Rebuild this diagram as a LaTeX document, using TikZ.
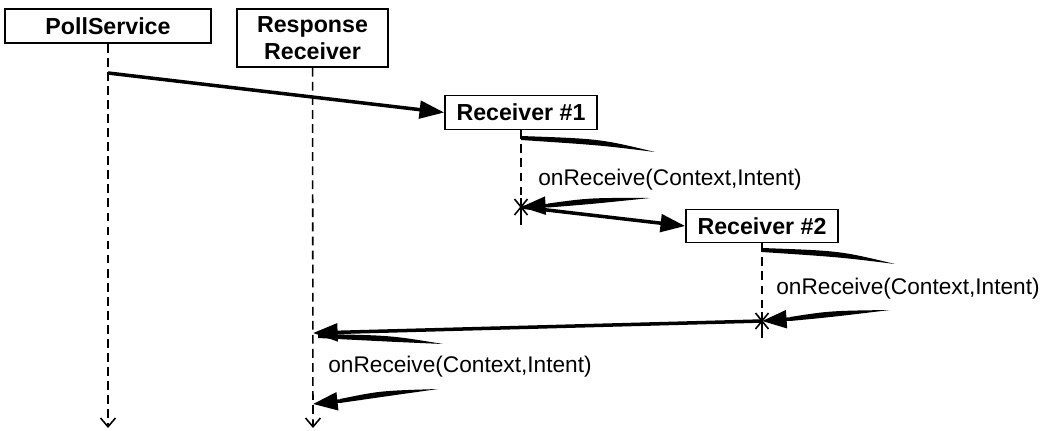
\documentclass[tikz,border=0pt]{standalone}
\usepackage{fontspec}
\setsansfont{Liberation Sans}
\usetikzlibrary{arrows.meta, positioning, calc}

% tapered pen stroke: thick end, bow point, thin tip
\newcommand{\taper}[3]{%
  \fill ($(#1)+(0,-2)$) .. controls ($(#2)+(0,-3.2)$) .. (#3)
        .. controls ($(#2)+(0,3.2)$) .. ($(#1)+(0,2)$) -- cycle;}

\begin{document}
\begin{tikzpicture}[
  x=0.02cm, y=-0.02cm,
  obj/.style={draw, line width=1pt, align=center, inner sep=0pt, font=\sffamily\bfseries\fontsize{13.2}{15.5}\selectfont},
  lbl/.style={anchor=west, inner sep=0pt, font=\sffamily\fontsize{12.9}{15.5}\selectfont},
  life/.style={dashed, dash pattern=on 5pt off 3pt, line width=0.9pt},
  lifeend/.style={life, -{Straight Barb[length=5pt, width=8.5pt]}},
  stub/.style={line width=0.9pt},
  msg/.style={line width=2pt, -{Triangle[length=14pt, width=10pt]}}
]
\useasboundingbox (0,0) rectangle (1042,430);

% Objects
\node[obj, minimum width=4.12cm, minimum height=0.68cm] (poll) at (108,26) {PollService};
\node[obj, minimum width=3.02cm, minimum height=1.16cm] (resp) at (312.5,38) {Response\\Receiver};
\node[obj, minimum width=3.04cm, minimum height=0.68cm] (rec1) at (521,112.5) {Receiver \#1};
\node[obj, minimum width=3.04cm, minimum height=0.66cm] (rec2) at (762,226) {Receiver \#2};

% Lifelines
\coordinate (pollEnd) at (108,428);
\coordinate (respEnd) at (313,428);
\coordinate (x1) at (521,207);
\coordinate (x2) at (762,321);
\draw[lifeend] (poll) -- (pollEnd);
\draw[lifeend] (resp) -- (respEnd);
\draw[life] (rec1) -- (x1);
\draw[life] (rec2) -- (x2);

% Destruction marks
\draw[stub] ($(x1)+(0,-9)$) -- ($(x1)+(0,18)$);
\draw[stub] (x1) +(-6.5,-8) -- +(6.5,8) (x1) +(-6.5,8) -- +(6.5,-8);
\draw[stub] ($(x2)+(0,-9)$) -- ($(x2)+(0,17)$);
\draw[stub] (x2) +(-6.5,-8) -- +(6.5,8) (x2) +(-6.5,8) -- +(6.5,-8);

% Send to Receiver #1
\coordinate (pollSend) at (108,73);
\draw[msg] (pollSend) -- (rec1.west);

% Receiver #1 onReceive
\coordinate (r1out) at (521,138);
\coordinate (r1outc) at (600,142);
\coordinate (r1outtip) at (655,152);
\coordinate (r1intip) at (650,198);
\coordinate (r1inc) at (590,201);
\coordinate (r1in) at (548,205.5);
\taper{r1out}{r1outc}{r1outtip}
\node[lbl] (lbl1) at (538,180) {onReceive(Context,Intent)};
\taper{r1in}{r1inc}{r1intip}
\draw[msg] (r1in) -- (x1);
\draw[msg] (x1) -- (rec2.west);

% Receiver #2 onReceive
\coordinate (r2out) at (762,250);
\coordinate (r2outc) at (840,254);
\coordinate (r2outtip) at (895,264);
\coordinate (r2intip) at (890,310);
\coordinate (r2inc) at (830,314);
\coordinate (r2in) at (790,319);
\taper{r2out}{r2outc}{r2outtip}
\node[lbl] (lbl2) at (776,289) {onReceive(Context,Intent)};
\taper{r2in}{r2inc}{r2intip}
\draw[msg] (r2in) -- (x2);

% Back to Response Receiver
\coordinate (respHit) at (313,333);
\draw[msg] (x2) -- (respHit);
\coordinate (rrout) at (318,336);
\coordinate (rroutc) at (390,338.5);
\coordinate (rrouttip) at (443,344);
\coordinate (rrintip) at (438,389);
\coordinate (rrinc) at (380,394);
\coordinate (rrin) at (340,401);
\coordinate (rrend) at (313,404);
\taper{rrout}{rroutc}{rrouttip}
\node[lbl] (lbl3) at (328,367) {onReceive(Context,Intent)};
\taper{rrin}{rrinc}{rrintip}
\draw[msg] (rrin) -- (rrend);

\end{tikzpicture}
\end{document}
